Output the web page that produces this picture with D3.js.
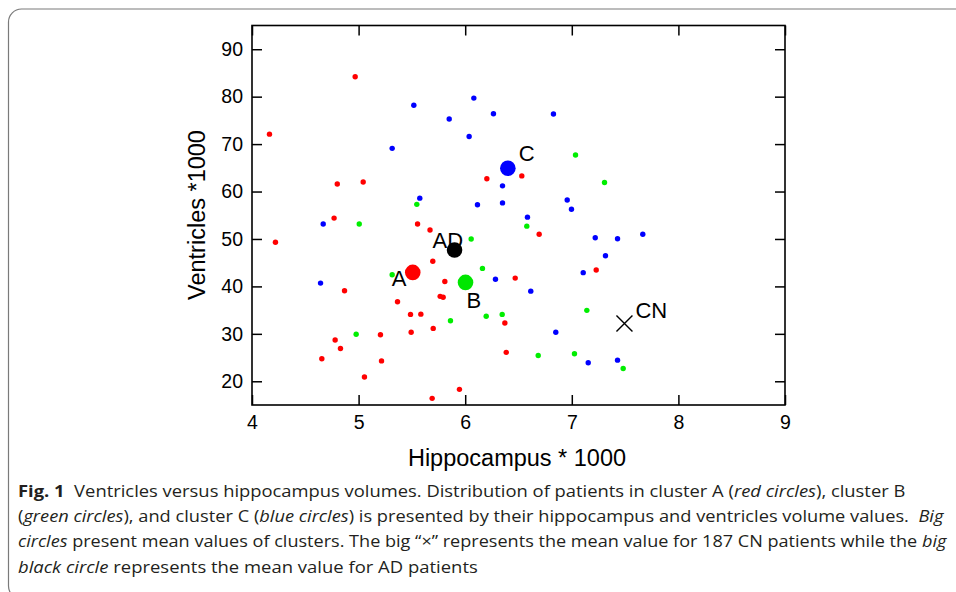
<!DOCTYPE html>
<html>
<head>
<meta charset="utf-8">
<script src="https://cdn.jsdelivr.net/npm/d3@7"></script>
<style>
  html, body { margin: 0; padding: 0; background: #fff; }
  svg { display: block; }
</style>
</head>
<body>
<svg id="chart" width="956" height="592"></svg>
<script>
// cluster A (red), cluster B (green), cluster C (blue): [hippocampus, ventricles]
var redPts = [[4.968,84.2],[4.164,72.1],[6.203,62.7],[4.80,61.6],[5.043,62.0],[4.77,54.4],[6.531,63.3],
  [5.553,53.15],[5.67,51.9],[4.22,49.3],[5.696,45.3],[6.469,41.75],[5.809,41.05],[4.868,39.1],[5.765,37.9],
  [5.793,37.7],[5.365,36.75],[5.487,34.1],[5.584,34.15],[6.372,32.3],[5.70,31.15],[5.205,29.8],[5.493,30.35],
  [4.78,28.7],[4.83,26.9],[6.385,26.1],[4.655,24.75],[5.215,24.3],[5.055,20.9],[5.946,18.3],[5.69,16.4],
  [6.694,51.0],[7.229,43.45]];
var greenPts = [[5.546,57.3],[7.035,67.7],[7.307,61.9],[5.006,53.15],[6.056,50.0],[5.315,42.45],[6.162,43.8],
  [5.862,32.75],[6.197,33.7],[6.347,34.1],[4.977,29.9],[6.578,52.7],[7.141,34.95],[6.685,25.45],[7.025,25.8],
  [7.482,22.7]];
var bluePts = [[5.518,78.2],[6.081,79.7],[5.85,75.3],[6.265,76.4],[6.037,71.6],[5.315,69.1],[6.35,61.2],
  [5.574,58.6],[6.115,57.2],[6.35,57.6],[6.828,76.35],[6.957,58.2],[6.997,56.25],[6.584,54.6],[4.668,53.15],
  [6.284,41.5],[4.643,40.7],[7.22,50.25],[7.429,50.05],[7.666,51.0],[7.316,46.45],[7.107,42.9],[6.615,39.0],
  [6.85,30.35],[7.154,23.9],[7.429,24.45]];

// mean values
var meanNames = ["A", "B", "C", "AD"];
var meanX = [5.508, 6.003, 6.40, 5.90];
var meanY = [42.95, 40.84, 64.9, 47.66];
var meanColors = ["#ff0000", "#00e600", "#0000ff", "#000000"];
var cnMean = [7.494, 32.2];

var xTicks = [4, 5, 6, 7, 8, 9];
var yTicks = [20, 30, 40, 50, 60, 70, 80, 90];

var svg = d3.select("#chart");

// outer figure box
svg.append("rect")
    .attr("x", 8.5).attr("y", 9)
    .attr("width", 1000).attr("height", 590)
    .attr("rx", 13)
    .attr("fill", "none")
    .attr("stroke", "#7a7a7a")
    .attr("stroke-width", 1.2);

var margin = {left: 252, right: 785, top: 25.5, bottom: 405};

var x = d3.scaleLinear().domain([4, 9]).range([margin.left, margin.right]);
var y = d3.scaleLinear().domain([15, 95]).range([margin.bottom, margin.top]);

var tickFont = "'Liberation Sans', Arial, Helvetica, sans-serif";

function styleAxis(g) {
    g.attr("font-size", 19.5).attr("font-family", tickFont);
    g.select(".domain").remove();
    g.selectAll("line").attr("stroke", "#000").attr("stroke-width", 1.5);
    g.selectAll("text").attr("fill", "#000");
}

svg.append("g")
    .attr("transform", "translate(0," + margin.bottom + ")")
    .call(d3.axisBottom(x).tickValues(xTicks).tickSize(-10).tickPadding(10).tickFormat(d3.format("d")))
    .call(styleAxis);

svg.append("g")
    .attr("transform", "translate(0," + margin.top + ")")
    .call(d3.axisTop(x).tickValues(xTicks).tickSize(-10).tickFormat(""))
    .call(styleAxis);

svg.append("g")
    .attr("transform", "translate(" + margin.left + ",0)")
    .call(d3.axisLeft(y).tickValues(yTicks).tickSize(-10).tickPadding(9).tickFormat(d3.format("d")))
    .call(styleAxis);

svg.append("g")
    .attr("transform", "translate(" + margin.right + ",0)")
    .call(d3.axisRight(y).tickValues(yTicks).tickSize(-10).tickFormat(""))
    .call(styleAxis);

// plot frame
svg.append("rect")
    .attr("x", margin.left).attr("y", margin.top)
    .attr("width", margin.right - margin.left)
    .attr("height", margin.bottom - margin.top)
    .attr("fill", "none")
    .attr("stroke", "#000")
    .attr("stroke-width", 1.6);

// axis titles
svg.append("text")
    .attr("x", 517)
    .attr("y", 466)
    .attr("text-anchor", "middle")
    .attr("font-family", tickFont)
    .attr("font-size", 23.5)
    .text("Hippocampus * 1000");

svg.append("text")
    .attr("transform", "translate(205,215) rotate(-90)")
    .attr("text-anchor", "middle")
    .attr("font-family", tickFont)
    .attr("font-size", 23.5)
    .text("Ventricles *1000");

// patient points
var groups = [
    {pts: redPts, color: "#ff0000"},
    {pts: greenPts, color: "#00ee00"},
    {pts: bluePts, color: "#0000ff"}
];

groups.forEach(function(gr) {
    svg.append("g")
        .attr("fill", gr.color)
        .selectAll("circle")
        .data(gr.pts)
        .enter()
        .append("circle")
        .attr("cx", function(d) { return x(d[0]); })
        .attr("cy", function(d) { return y(d[1]); })
        .attr("r", 2.7);
});

// cluster means
var means = meanNames.map(function(n, i) {
    return {name: n, x: meanX[i], y: meanY[i], color: meanColors[i]};
});

// label offsets (px) relative to each mean point
var labelOffset = {A: [-21, 14], B: [1, 26], C: [11, -7], AD: [-22, -2]};

svg.append("g")
    .selectAll("text")
    .data(means)
    .enter()
    .append("text")
    .attr("x", function(d) { return x(d.x) + labelOffset[d.name][0]; })
    .attr("y", function(d) { return y(d.y) + labelOffset[d.name][1]; })
    .attr("font-family", tickFont)
    .attr("font-size", 22)
    .text(function(d) { return d.name; });

svg.append("g")
    .selectAll("circle")
    .data(means)
    .enter()
    .append("circle")
    .attr("cx", function(d) { return x(d.x); })
    .attr("cy", function(d) { return y(d.y); })
    .attr("r", 7.8)
    .attr("fill", function(d) { return d.color; });

// CN mean: a big cross
var cx = x(cnMean[0]), cy = y(cnMean[1]), s = 8;
svg.append("path")
    .attr("d", "M" + (cx - s) + "," + (cy - s) + "L" + (cx + s) + "," + (cy + s) +
               "M" + (cx - s) + "," + (cy + s) + "L" + (cx + s) + "," + (cy - s))
    .attr("stroke", "#000")
    .attr("stroke-width", 1.4)
    .attr("fill", "none");

svg.append("text")
    .attr("x", cx + 11)
    .attr("y", cy - 5)
    .attr("font-family", tickFont)
    .attr("font-size", 22)
    .text("CN");

// caption
var captionLines = [
    {end: 906, parts: [["b", "Fig. 1"], ["", "\u00a0 Ventricles versus hippocampus volumes. Distribution of patients in cluster A ("], ["i", "red circles"], ["", "), cluster B"]]},
    {end: 944, parts: [["", "("], ["i", "green circles"], ["", "), and cluster C ("], ["i", "blue circles"], ["", ") is presented by their hippocampus and ventricles volume values.\u00a0 "], ["i", "Big"]]},
    {end: 947, parts: [["i", "circles"], ["", " present mean values of clusters. The big \u201c\u00d7\u201d represents the mean value for 187 CN patients while the "], ["i", "big"]]},
    {end: 478, parts: [["i", "black circle"], ["", " represents the mean value for AD patients"]]}
];

var capX = 18;
captionLines.forEach(function(line, i) {
    var t = svg.append("text")
        .attr("x", capX)
        .attr("y", 497 + i * 25.2)
        .attr("font-family", "'Open Sans', 'Noto Sans', sans-serif")
        .attr("font-size", 16.5)
        .attr("fill", "#231f20")
        .style("white-space", "pre");
    line.parts.forEach(function(p) {
        var ts = t.append("tspan").text(p[1]);
        if (p[0] === "b") ts.attr("font-weight", "bold");
        if (p[0] === "i") ts.attr("font-style", "italic");
    });
    var w = t.node().getComputedTextLength();
    var k = (line.end - capX) / w;
    t.attr("transform", "translate(" + capX + ",0) scale(" + k + ",1) translate(" + (-capX) + ",0)");
});
</script>
</body>
</html>
